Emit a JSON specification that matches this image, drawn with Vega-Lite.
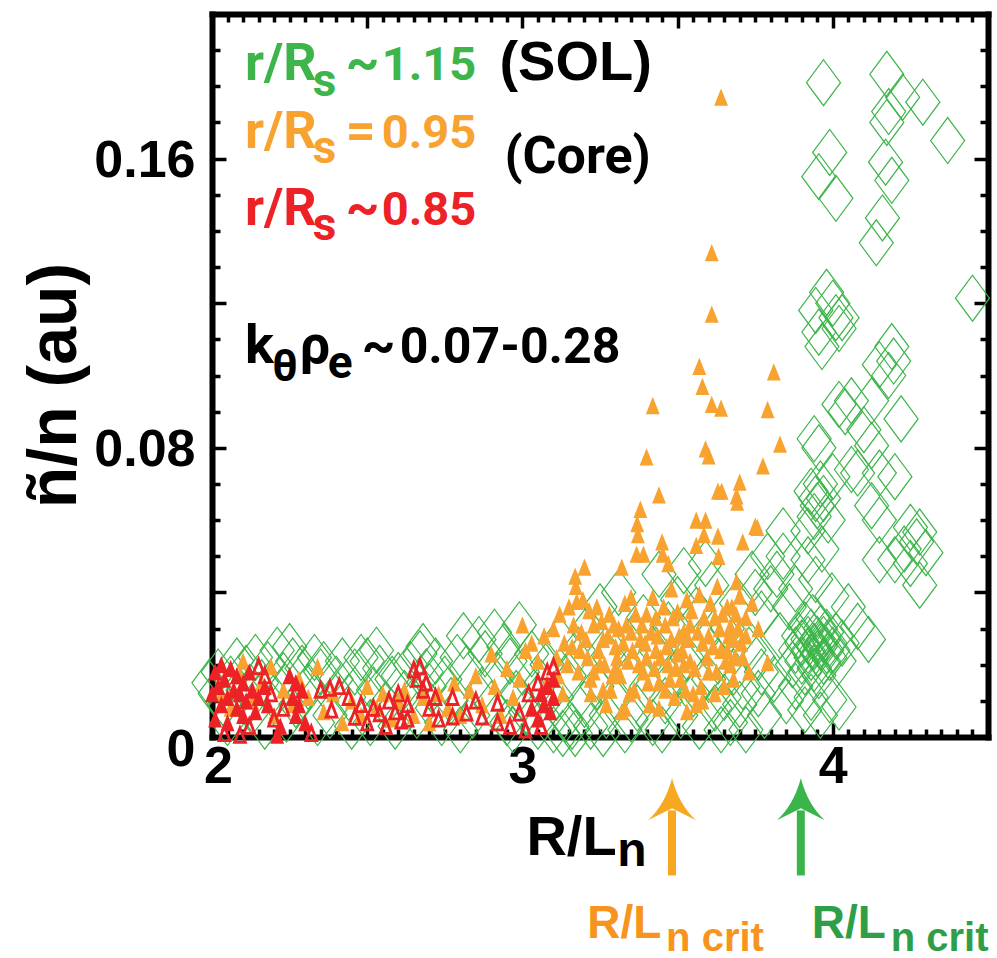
{
  "$schema": "https://vega.github.io/schema/vega-lite/v6.json",
  "width": 776,
  "height": 723,
  "autosize": {"type": "none"},
  "padding": {"left": 212, "top": 14, "right": 9, "bottom": 221},
  "background": "white",
  "config": {
    "view": {"stroke": null},
    "axis": {
      "grid": false, "domainColor": "black", "domainWidth": 6, "domainCap": "square",
      "tickColor": "black", "tickWidth": 3.5,
      "labelFont": "Liberation Sans", "labelFontWeight": "bold", "labelFontSize": 52, "labelColor": "black",
      "titleFont": "Liberation Sans", "titleFontWeight": "bold", "titleColor": "black",
      "labelOverlap": false, "labelBound": false, "labelFlush": false
    }
  },
  "datasets": {
    "sol": [
      {"x":1.99,"y":0.015},{"x":2.01,"y":0.012},{"x":2.02,"y":0.018},{"x":2.04,"y":0.009},{"x":2.06,"y":0.016},{"x":2.08,"y":0.021},{"x":2.1,"y":0.013},{"x":2.11,"y":0.019},{"x":2.13,"y":0.007},{"x":2.14,"y":0.022},{"x":2.16,"y":0.015},{"x":2.18,"y":0.02},{"x":2.2,"y":0.011},{"x":2.21,"y":0.024},{"x":2.23,"y":0.017},{"x":2.25,"y":0.025},{"x":2.26,"y":0.021},{"x":2.27,"y":0.009},{"x":2.29,"y":0.019},{"x":2.05,"y":0.004},{"x":2.17,"y":0.003},{"x":2.24,"y":0.005},
      {"x":2.31,"y":0.014},{"x":2.33,"y":0.022},{"x":2.35,"y":0.018},{"x":2.36,"y":0.02},{"x":2.38,"y":0.006},{"x":2.4,"y":0.016},{"x":2.42,"y":0.021},{"x":2.44,"y":0.011},{"x":2.46,"y":0.018},{"x":2.48,"y":0.022},{"x":2.5,"y":0.021},{"x":2.51,"y":0.004},{"x":2.52,"y":0.013},{"x":2.54,"y":0.019},{"x":2.56,"y":0.009},{"x":2.58,"y":0.016},{"x":2.6,"y":0.017},{"x":2.59,"y":0.003},{"x":2.34,"y":0.004},{"x":2.45,"y":0.003},{"x":2.53,"y":0.024},
      {"x":2.62,"y":0.012},{"x":2.64,"y":0.02},{"x":2.66,"y":0.006},{"x":2.68,"y":0.025},{"x":2.69,"y":0.018},{"x":2.7,"y":0.014},{"x":2.72,"y":0.021},{"x":2.74,"y":0.004},{"x":2.75,"y":0.016},{"x":2.77,"y":0.01},{"x":2.79,"y":0.022},{"x":2.81,"y":0.028},{"x":2.82,"y":0.019},{"x":2.84,"y":0.006},{"x":2.86,"y":0.027},{"x":2.87,"y":0.013},{"x":2.88,"y":0.023},{"x":2.9,"y":0.009},{"x":2.67,"y":0.023},{"x":2.8,"y":0.002},{"x":2.71,"y":0.008},
      {"x":2.91,"y":0.029},{"x":2.92,"y":0.017},{"x":2.94,"y":0.025},{"x":2.95,"y":0.004},{"x":2.96,"y":0.021},{"x":2.98,"y":0.012},{"x":2.99,"y":0.031},{"x":3.0,"y":0.018},{"x":3.01,"y":0.007},{"x":3.03,"y":0.023},{"x":3.05,"y":0.003},{"x":3.06,"y":0.015},{"x":3.08,"y":0.02},{"x":3.1,"y":0.002},{"x":3.11,"y":0.011},{"x":3.12,"y":0.027},{"x":3.14,"y":0.005},{"x":3.15,"y":0.017},{"x":3.17,"y":0.001},{"x":3.18,"y":0.024},{"x":3.2,"y":0.009},{"x":2.97,"y":0.002},{"x":3.13,"y":0.001},{"x":3.16,"y":0.003},
      {"x":3.21,"y":0.03},{"x":3.22,"y":0.003},{"x":3.24,"y":0.014},{"x":3.25,"y":0.036},{"x":3.27,"y":0.006},{"x":3.28,"y":0.022},{"x":3.3,"y":0.011},{"x":3.31,"y":0.04},{"x":3.33,"y":0.002},{"x":3.34,"y":0.018},{"x":3.36,"y":0.028},{"x":3.37,"y":0.008},{"x":3.39,"y":0.033},{"x":3.4,"y":0.014},{"x":3.42,"y":0.004},{"x":3.43,"y":0.024},{"x":3.44,"y":0.045},{"x":3.46,"y":0.01},{"x":3.47,"y":0.031},{"x":3.49,"y":0.017},{"x":3.5,"y":0.038},{"x":3.26,"y":0.001},{"x":3.35,"y":0.005},{"x":3.45,"y":0.002},
      {"x":3.51,"y":0.006},{"x":3.52,"y":0.046},{"x":3.53,"y":0.022},{"x":3.55,"y":0.012},{"x":3.56,"y":0.035},{"x":3.57,"y":0.003},{"x":3.58,"y":0.027},{"x":3.6,"y":0.016},{"x":3.61,"y":0.042},{"x":3.62,"y":0.008},{"x":3.63,"y":0.021},{"x":3.65,"y":0.011},{"x":3.66,"y":0.03},{"x":3.67,"y":0.004},{"x":3.68,"y":0.018},{"x":3.7,"y":0.009},{"x":3.71,"y":0.014},{"x":3.72,"y":0.002},{"x":3.73,"y":0.024},{"x":3.74,"y":0.045},{"x":3.75,"y":0.04},{"x":3.76,"y":0.012},{"x":3.77,"y":0.034},{"x":3.78,"y":0.006},{"x":3.79,"y":0.05},{"x":3.59,"y":0.048},{"x":3.64,"y":0.002},{"x":3.69,"y":0.037},{"x":3.76,"y":0.022},{"x":3.8,"y":0.041},{"x":3.82,"y":0.045},{"x":3.84,"y":0.05},{"x":3.84,"y":0.057},{"x":3.77,"y":0.018},
      {"x":3.86,"y":0.036},{"x":3.88,"y":0.041},{"x":3.92,"y":0.049},{"x":3.965,"y":0.052},{"x":3.945,"y":0.0436},{"x":3.997,"y":0.039},{"x":4.05,"y":0.036},{"x":4.08,"y":0.0306},{"x":4.115,"y":0.027},{"x":3.88,"y":0.014},{"x":3.93,"y":0.011},{"x":3.99,"y":0.0103},{"x":4.02,"y":0.0083},{"x":3.91,"y":0.0075},{"x":3.96,"y":0.006},{"x":3.85,"y":0.01},{"x":3.87,"y":0.02},{"x":3.83,"y":0.028},{"x":3.81,"y":0.016},
      {"x":3.88,"y":0.024},{"x":3.89,"y":0.028},{"x":3.9,"y":0.021},{"x":3.9,"y":0.026},{"x":3.91,"y":0.031},{"x":3.91,"y":0.018},{"x":3.92,"y":0.024},{"x":3.92,"y":0.027},{"x":3.93,"y":0.022},{"x":3.93,"y":0.029},{"x":3.94,"y":0.025},{"x":3.94,"y":0.019},{"x":3.95,"y":0.027},{"x":3.95,"y":0.023},{"x":3.96,"y":0.03},{"x":3.96,"y":0.025},{"x":3.97,"y":0.021},{"x":3.97,"y":0.027},{"x":3.98,"y":0.024},{"x":3.98,"y":0.029},{"x":3.99,"y":0.022},{"x":3.99,"y":0.026},{"x":4.0,"y":0.024},{"x":4.01,"y":0.028},{"x":4.02,"y":0.021},{"x":3.935,"y":0.033},{"x":3.955,"y":0.017},{"x":4.03,"y":0.026},
      {"x":3.92,"y":0.057},{"x":3.93,"y":0.068},{"x":3.94,"y":0.061},{"x":3.945,"y":0.066},{"x":3.95,"y":0.064},{"x":3.96,"y":0.07},{"x":3.97,"y":0.066},{"x":3.985,"y":0.06},{"x":4.0,"y":0.072},{"x":3.94,"y":0.0825},{"x":3.955,"y":0.08},{"x":4.02,"y":0.092},{"x":4.04,"y":0.09},{"x":4.06,"y":0.093},{"x":4.125,"y":0.093},{"x":4.15,"y":0.103},{"x":4.18,"y":0.1},{"x":4.196,"y":0.104},{"x":4.125,"y":0.0806},{"x":4.08,"y":0.073},{"x":4.15,"y":0.073},{"x":4.2,"y":0.072},{"x":4.06,"y":0.074},{"x":4.125,"y":0.064},{"x":4.15,"y":0.06},{"x":4.25,"y":0.058},{"x":4.28,"y":0.0567},{"x":4.27,"y":0.054},{"x":4.15,"y":0.049},{"x":4.2,"y":0.049},{"x":4.23,"y":0.052},{"x":4.28,"y":0.042},{"x":4.25,"y":0.048},{"x":4.3,"y":0.051},{"x":4.1,"y":0.085},{"x":4.22,"y":0.088},
      {"x":3.955,"y":0.112},{"x":4.01,"y":0.116},{"x":4.03,"y":0.116},{"x":3.965,"y":0.108},{"x":3.945,"y":0.118},{"x":3.98,"y":0.123},{"x":4.02,"y":0.113},{"x":4.0,"y":0.12},
      {"x":3.97,"y":0.181},{"x":4.174,"y":0.1833},{"x":4.225,"y":0.177},{"x":4.29,"y":0.1756},{"x":4.18,"y":0.173},{"x":4.174,"y":0.17},{"x":4.37,"y":0.165},{"x":3.99,"y":0.1617},{"x":3.955,"y":0.155},{"x":4.01,"y":0.149},{"x":4.17,"y":0.159},{"x":4.19,"y":0.154},{"x":4.16,"y":0.1436},{"x":4.14,"y":0.1367},{"x":4.45,"y":0.1214},{"x":4.19,"y":0.108}
    ],
    "core": [
      {"x":2.03,"y":0.012},{"x":2.06,"y":0.008},{"x":2.09,"y":0.017},{"x":2.1,"y":0.021},{"x":2.13,"y":0.01},{"x":2.16,"y":0.015},{"x":2.19,"y":0.0195},{"x":2.2,"y":0.006},{"x":2.23,"y":0.013},{"x":2.26,"y":0.009},{"x":2.28,"y":0.016},{"x":2.31,"y":0.011},{"x":2.34,"y":0.0195},{"x":2.36,"y":0.007},{"x":2.39,"y":0.012},{"x":2.42,"y":0.004},{"x":2.45,"y":0.01},{"x":2.48,"y":0.006},{"x":2.5,"y":0.014},{"x":2.53,"y":0.008},{"x":2.55,"y":0.012},{"x":2.58,"y":0.005},{"x":2.6,"y":0.01},{"x":2.62,"y":0.013},{"x":2.65,"y":0.006},{"x":2.68,"y":0.011},{"x":2.7,"y":0.004},{"x":2.73,"y":0.012},{"x":2.76,"y":0.008},{"x":2.78,"y":0.015},{"x":2.8,"y":0.006},{"x":2.83,"y":0.013},{"x":2.85,"y":0.017},{"x":2.87,"y":0.009},{"x":2.9,"y":0.023},{"x":2.91,"y":0.014},{"x":2.93,"y":0.006},{"x":2.95,"y":0.019},{"x":2.97,"y":0.011},{"x":2.99,"y":0.016},{"x":3.0,"y":0.031},{"x":3.01,"y":0.024},
      {"x":3.03,"y":0.026},{"x":3.05,"y":0.021},{"x":3.07,"y":0.028},{"x":3.08,"y":0.015},{"x":3.1,"y":0.03},{"x":3.11,"y":0.022},{"x":3.12,"y":0.034},{"x":3.13,"y":0.012},{"x":3.15,"y":0.036},{"x":3.16,"y":0.025},{"x":3.17,"y":0.0445},{"x":3.172,"y":0.0417},{"x":3.175,"y":0.0375},{"x":3.18,"y":0.018},{"x":3.19,"y":0.029},{"x":3.2,"y":0.047},{"x":3.21,"y":0.022},{"x":3.22,"y":0.012},{"x":3.23,"y":0.031},{"x":3.24,"y":0.036},{"x":3.25,"y":0.02},{"x":3.26,"y":0.027},{"x":3.27,"y":0.009},{"x":3.28,"y":0.034},{"x":3.29,"y":0.017},{"x":3.3,"y":0.025},
      {"x":3.31,"y":0.03},{"x":3.32,"y":0.047},{"x":3.33,"y":0.037},{"x":3.34,"y":0.021},{"x":3.35,"y":0.0386},{"x":3.36,"y":0.013},{"x":3.37,"y":0.059},{"x":3.372,"y":0.056},{"x":3.368,"y":0.0506},{"x":3.38,"y":0.063},{"x":3.38,"y":0.027},{"x":3.39,"y":0.0506},{"x":3.39,"y":0.018},{"x":3.4,"y":0.0775},{"x":3.4,"y":0.034},{"x":3.41,"y":0.009},{"x":3.42,"y":0.0917},{"x":3.42,"y":0.0386},{"x":3.43,"y":0.024},{"x":3.44,"y":0.067},{"x":3.44,"y":0.015},{"x":3.45,"y":0.054},{"x":3.452,"y":0.0506},{"x":3.46,"y":0.031},{"x":3.47,"y":0.048},{"x":3.47,"y":0.02},{"x":3.48,"y":0.027},{"x":3.49,"y":0.011},{"x":3.5,"y":0.0347},{"x":3.5,"y":0.023},
      {"x":3.51,"y":0.016},{"x":3.52,"y":0.029},{"x":3.53,"y":0.038},{"x":3.54,"y":0.021},{"x":3.55,"y":0.012},{"x":3.56,"y":0.06},{"x":3.56,"y":0.053},{"x":3.57,"y":0.0394},{"x":3.57,"y":0.1025},{"x":3.58,"y":0.097},{"x":3.58,"y":0.026},{"x":3.59,"y":0.06},{"x":3.585,"y":0.056},{"x":3.59,"y":0.0797},{"x":3.6,"y":0.0778},{"x":3.6,"y":0.018},{"x":3.61,"y":0.134},{"x":3.61,"y":0.117},{"x":3.61,"y":0.092},{"x":3.62,"y":0.033},{"x":3.63,"y":0.068},{"x":3.63,"y":0.0556},{"x":3.632,"y":0.05},{"x":3.628,"y":0.0417},{"x":3.64,"y":0.177},{"x":3.64,"y":0.091},{"x":3.642,"y":0.068},{"x":3.64,"y":0.024},{"x":3.65,"y":0.014},{"x":3.66,"y":0.036},{"x":3.67,"y":0.0306},{"x":3.67,"y":0.02},{"x":3.68,"y":0.027},{"x":3.69,"y":0.0667},{"x":3.692,"y":0.065},{"x":3.69,"y":0.043},{"x":3.688,"y":0.034},{"x":3.7,"y":0.0705},{"x":3.7,"y":0.039},{"x":3.71,"y":0.054},{"x":3.71,"y":0.022},{"x":3.72,"y":0.033},{"x":3.72,"y":0.028},{"x":3.73,"y":0.018},{"x":3.74,"y":0.037},
      {"x":3.75,"y":0.0583},{"x":3.757,"y":0.058},{"x":3.76,"y":0.03},{"x":3.775,"y":0.075},{"x":3.79,"y":0.0906},{"x":3.79,"y":0.0206},{"x":3.81,"y":0.101},{"x":3.83,"y":0.081},
      {"x":3.22,"y":0.016},{"x":3.26,"y":0.013},{"x":3.3,"y":0.019},{"x":3.33,"y":0.008},{"x":3.35,"y":0.029},{"x":3.4,"y":0.022},{"x":3.43,"y":0.033},{"x":3.46,"y":0.013},{"x":3.48,"y":0.041},{"x":3.52,"y":0.02},{"x":3.54,"y":0.031},{"x":3.56,"y":0.009},{"x":3.6,"y":0.028},{"x":3.62,"y":0.012},{"x":3.66,"y":0.024},{"x":3.68,"y":0.016},
      {"x":3.205,"y":0.027},{"x":3.215,"y":0.035},{"x":3.23,"y":0.018},{"x":3.245,"y":0.024},{"x":3.255,"y":0.032},{"x":3.265,"y":0.02},{"x":3.275,"y":0.028},{"x":3.285,"y":0.013},{"x":3.295,"y":0.031},{"x":3.305,"y":0.022},
      {"x":3.315,"y":0.017},{"x":3.325,"y":0.026},{"x":3.335,"y":0.031},{"x":3.345,"y":0.012},{"x":3.355,"y":0.024},{"x":3.365,"y":0.034},{"x":3.375,"y":0.02},{"x":3.385,"y":0.031},{"x":3.395,"y":0.026},{"x":3.405,"y":0.015},
      {"x":3.415,"y":0.029},{"x":3.425,"y":0.019},{"x":3.435,"y":0.028},{"x":3.445,"y":0.022},{"x":3.455,"y":0.036},{"x":3.465,"y":0.025},{"x":3.475,"y":0.016},{"x":3.485,"y":0.033},{"x":3.495,"y":0.019},{"x":3.505,"y":0.028},
      {"x":3.515,"y":0.024},{"x":3.525,"y":0.013},{"x":3.535,"y":0.027},{"x":3.545,"y":0.035},{"x":3.555,"y":0.019},{"x":3.565,"y":0.029},{"x":3.575,"y":0.014},{"x":3.585,"y":0.033},{"x":3.595,"y":0.022},{"x":3.605,"y":0.037},
      {"x":3.615,"y":0.025},{"x":3.625,"y":0.018},{"x":3.635,"y":0.03},{"x":3.645,"y":0.034},{"x":3.655,"y":0.021},{"x":3.665,"y":0.028},{"x":3.675,"y":0.036},{"x":3.685,"y":0.022},{"x":3.695,"y":0.03},{"x":3.705,"y":0.026},
      {"x":3.115,"y":0.017},{"x":3.135,"y":0.026},{"x":3.145,"y":0.02},{"x":3.165,"y":0.031},{"x":3.185,"y":0.024},{"x":3.195,"y":0.038},
      {"x":3.32,"y":0.007},{"x":3.44,"y":0.008},{"x":3.53,"y":0.007},{"x":3.58,"y":0.01}
    ],
    "innerFilled": [
      {"x":2.0,"y":0.012},{"x":2.01,"y":0.018},{"x":2.01,"y":0.005},{"x":2.02,"y":0.014},{"x":2.03,"y":0.009},{"x":2.03,"y":0.02},{"x":2.04,"y":0.016},{"x":2.05,"y":0.011},{"x":2.05,"y":0.004},{"x":2.06,"y":0.019},{"x":2.07,"y":0.013},{"x":2.08,"y":0.008},{"x":2.08,"y":0.017},{"x":2.09,"y":0.012},{"x":2.1,"y":0.006},{"x":2.1,"y":0.015},{"x":2.11,"y":0.01},{"x":2.12,"y":0.018},{"x":2.13,"y":0.013},{"x":2.14,"y":0.007},{"x":2.15,"y":0.011},{"x":2.17,"y":0.014},{"x":2.18,"y":0.009},{"x":2.25,"y":0.017},{"x":2.26,"y":0.011},{"x":2.27,"y":0.006},{"x":2.27,"y":0.015},{"x":2.28,"y":0.009},{"x":2.29,"y":0.013},{"x":2.3,"y":0.004},{"x":2.22,"y":0.003},{"x":2.21,"y":0.0005},
      {"x":3.03,"y":0.008},{"x":3.05,"y":0.005},{"x":3.06,"y":0.012},{"x":3.07,"y":0.009},{"x":3.08,"y":0.014},{"x":3.09,"y":0.007},{"x":3.1,"y":0.011},{"x":3.1,"y":0.016}
    ],
    "innerOpen": [
      {"x":2.15,"y":0.0195},{"x":2.17,"y":0.017},{"x":2.19,"y":0.012},{"x":2.2,"y":0.005},{"x":2.23,"y":0.008},{"x":2.35,"y":0.013},{"x":2.38,"y":0.0135},{"x":2.41,"y":0.014},{"x":2.385,"y":0.0075},{"x":2.44,"y":0.011},{"x":2.46,"y":0.0055},{"x":2.48,"y":0.009},{"x":2.5,"y":0.004},{"x":2.52,"y":0.008},{"x":2.54,"y":0.0065},{"x":2.56,"y":0.003},{"x":2.57,"y":0.01},{"x":2.59,"y":0.007},{"x":2.61,"y":0.0045},{"x":2.63,"y":0.009},{"x":2.65,"y":0.0186},{"x":2.66,"y":0.016},{"x":2.67,"y":0.0195},{"x":2.68,"y":0.013},{"x":2.69,"y":0.015},{"x":2.7,"y":0.008},{"x":2.72,"y":0.011},{"x":2.73,"y":0.005},{"x":2.775,"y":0.011},{"x":2.775,"y":0.0056},{"x":2.82,"y":0.0067},{"x":2.85,"y":0.01},{"x":2.87,"y":0.0056},{"x":2.92,"y":0.0094},{"x":2.92,"y":0.004},{"x":2.96,"y":0.003},{"x":2.99,"y":0.0067},{"x":3.02,"y":0.012},{"x":3.01,"y":0.002},{"x":3.06,"y":0.003},{"x":3.08,"y":0.018},{"x":3.1,"y":0.0195},{"x":3.05,"y":0.015},{"x":2.6,"y":0.012},{"x":2.63,"y":0.005},{"x":2.09,"y":0.0005},{"x":2.04,"y":0.001},{"x":2.32,"y":0.001},{"x":2.12,"y":0.003}
    ],
    "one": [{}]
  },
  "resolve": {"axis": {"x": "independent", "y": "independent"}},
  "layer": [
    {
      "data": {"name": "sol"},
      "mark": {"type": "point", "shape": "M-0.74,0L0,-1L0.74,0L0,1Z", "size": 2116, "filled": false, "color": "#3db54a", "strokeWidth": 1.2, "opacity": 1},
      "encoding": {
        "x": {"field": "x", "type": "quantitative",
          "scale": {"domain": [2, 4.5], "nice": false, "zero": false},
          "axis": {"orient": "bottom", "title": null,
            "values": [2,2.05,2.1,2.15,2.2,2.25,2.3,2.35,2.4,2.45,2.5,2.55,2.6,2.65,2.7,2.75,2.8,2.85,2.9,2.95,3,3.05,3.1,3.15,3.2,3.25,3.3,3.35,3.4,3.45,3.5,3.55,3.6,3.65,3.7,3.75,3.8,3.85,3.9,3.95,4,4.05,4.1,4.15,4.2,4.25,4.3,4.35,4.4,4.45,4.5],
            "labelExpr": "datum.value == 2 ? '2' : datum.value == 3 ? '3' : datum.value == 4 ? '4' : ''",
            "tickSize": {"condition": {"test": "abs(datum.value*2 - round(datum.value*2)) < 0.001", "value": -14}, "value": -8},
            "labelPadding": 18,
            "labelOffset": {"condition": {"test": "datum.value == 2", "value": 6}, "value": 0}}},
        "y": {"field": "y", "type": "quantitative",
          "scale": {"domain": [0, 0.2], "nice": false, "zero": false},
          "axis": {"orient": "left", "title": "ñ/n (au)", "titleFontSize": 68, "titleAngle": 270, "titleAlign": "center", "titleBaseline": "alphabetic", "titleX": -137, "titleY": 371,
            "values": [0,0.01,0.02,0.03,0.04,0.05,0.06,0.07,0.08,0.09,0.1,0.11,0.12,0.13,0.14,0.15,0.16,0.17,0.18,0.19,0.2],
            "labelExpr": "datum.value == 0 ? '0' : datum.value == 0.08 ? '0.08' : datum.value == 0.16 ? '0.16' : ''",
            "tickSize": {"condition": {"test": "abs(datum.value*25 - round(datum.value*25)) < 0.001", "value": -14}, "value": -8},
            "labelPadding": 31,
            "labelOffset": {"condition": {"test": "datum.value == 0", "value": 12}, "value": 2}}}
      }
    },
    {
      "data": {"name": "core"},
      "mark": {"type": "point", "shape": "M0,-1L0.8,1L-0.8,1Z", "size": 300, "filled": true, "color": "#f8a230", "opacity": 1, "strokeWidth": 0},
      "encoding": {
        "x": {"field": "x", "type": "quantitative", "scale": {"domain": [2, 4.5], "nice": false, "zero": false},
          "axis": {"orient": "top", "title": null, "labels": false,
            "values": [2,2.05,2.1,2.15,2.2,2.25,2.3,2.35,2.4,2.45,2.5,2.55,2.6,2.65,2.7,2.75,2.8,2.85,2.9,2.95,3,3.05,3.1,3.15,3.2,3.25,3.3,3.35,3.4,3.45,3.5,3.55,3.6,3.65,3.7,3.75,3.8,3.85,3.9,3.95,4,4.05,4.1,4.15,4.2,4.25,4.3,4.35,4.4,4.45,4.5],
            "tickSize": {"condition": {"test": "abs(datum.value*2 - round(datum.value*2)) < 0.001", "value": -14}, "value": -8}}},
        "y": {"field": "y", "type": "quantitative", "scale": {"domain": [0, 0.2], "nice": false, "zero": false},
          "axis": {"orient": "right", "title": null, "labels": false,
            "values": [0,0.01,0.02,0.03,0.04,0.05,0.06,0.07,0.08,0.09,0.1,0.11,0.12,0.13,0.14,0.15,0.16,0.17,0.18,0.19,0.2],
            "tickSize": {"condition": {"test": "abs(datum.value*25 - round(datum.value*25)) < 0.001", "value": -14}, "value": -8}}}
      }
    },
    {
      "data": {"name": "innerFilled"},
      "mark": {"type": "point", "shape": "M0,-1L0.8,1L-0.8,1Z", "size": 300, "filled": true, "color": "#ec2227", "opacity": 1, "strokeWidth": 0},
      "encoding": {
        "x": {"field": "x", "type": "quantitative", "axis": null},
        "y": {"field": "y", "type": "quantitative", "axis": null}
      }
    },
    {
      "data": {"name": "innerOpen"},
      "mark": {"type": "point", "shape": "M0,-1L0.75,1L-0.75,1Z", "size": 210, "filled": false, "color": "#ec2227", "opacity": 1, "strokeWidth": 2.8},
      "encoding": {
        "x": {"field": "x", "type": "quantitative", "axis": null},
        "y": {"field": "y", "type": "quantitative", "axis": null}
      }
    },
    {"data": {"name": "one"}, "mark": {"type": "text", "align": "left", "baseline": "alphabetic", "font": "Roboto", "fontWeight": "bold", "fontSize": 52, "color": "#3db54a"},
     "encoding": {"x": {"datum": 2.1061, "type": "quantitative", "axis": null}, "y": {"datum": 0.18167, "type": "quantitative", "axis": null}, "text": {"value": "r/R"}}},
    {"data": {"name": "one"}, "mark": {"type": "text", "align": "left", "baseline": "alphabetic", "font": "Roboto", "fontWeight": "bold", "fontSize": 46, "color": "#3db54a"},
     "encoding": {"x": {"datum": 2.3248, "type": "quantitative", "axis": null}, "y": {"datum": 0.1772, "type": "quantitative", "axis": null}, "text": {"value": "s"}}},
    {"data": {"name": "one"}, "mark": {"type": "text", "align": "left", "baseline": "alphabetic", "font": "Roboto", "fontWeight": "bold", "fontSize": 52, "color": "#3db54a"},
     "encoding": {"x": {"datum": 2.4309, "type": "quantitative", "axis": null}, "y": {"datum": 0.18167, "type": "quantitative", "axis": null}, "text": {"value": "~"}}},
    {"data": {"name": "one"}, "mark": {"type": "text", "align": "left", "baseline": "alphabetic", "font": "Roboto", "fontWeight": "bold", "fontSize": 47, "color": "#3db54a"},
     "encoding": {"x": {"datum": 2.5466, "type": "quantitative", "axis": null}, "y": {"datum": 0.18167, "type": "quantitative", "axis": null}, "text": {"value": "1.15"}}},
    {"data": {"name": "one"}, "mark": {"type": "text", "align": "left", "baseline": "alphabetic", "font": "Roboto", "fontWeight": "bold", "fontSize": 52, "color": "#f8a230"},
     "encoding": {"x": {"datum": 2.1061, "type": "quantitative", "axis": null}, "y": {"datum": 0.16306, "type": "quantitative", "axis": null}, "text": {"value": "r/R"}}},
    {"data": {"name": "one"}, "mark": {"type": "text", "align": "left", "baseline": "alphabetic", "font": "Roboto", "fontWeight": "bold", "fontSize": 46, "color": "#f8a230"},
     "encoding": {"x": {"datum": 2.3248, "type": "quantitative", "axis": null}, "y": {"datum": 0.15889, "type": "quantitative", "axis": null}, "text": {"value": "s"}}},
    {"data": {"name": "one"}, "mark": {"type": "text", "align": "left", "baseline": "alphabetic", "font": "Roboto", "fontWeight": "bold", "fontSize": 52, "color": "#f8a230"},
     "encoding": {"x": {"datum": 2.4309, "type": "quantitative", "axis": null}, "y": {"datum": 0.16306, "type": "quantitative", "axis": null}, "text": {"value": "="}}},
    {"data": {"name": "one"}, "mark": {"type": "text", "align": "left", "baseline": "alphabetic", "font": "Roboto", "fontWeight": "bold", "fontSize": 47, "color": "#f8a230"},
     "encoding": {"x": {"datum": 2.5466, "type": "quantitative", "axis": null}, "y": {"datum": 0.16306, "type": "quantitative", "axis": null}, "text": {"value": "0.95"}}},
    {"data": {"name": "one"}, "mark": {"type": "text", "align": "left", "baseline": "alphabetic", "font": "Roboto", "fontWeight": "bold", "fontSize": 52, "color": "#ec2227"},
     "encoding": {"x": {"datum": 2.1061, "type": "quantitative", "axis": null}, "y": {"datum": 0.14167, "type": "quantitative", "axis": null}, "text": {"value": "r/R"}}},
    {"data": {"name": "one"}, "mark": {"type": "text", "align": "left", "baseline": "alphabetic", "font": "Roboto", "fontWeight": "bold", "fontSize": 46, "color": "#ec2227"},
     "encoding": {"x": {"datum": 2.3248, "type": "quantitative", "axis": null}, "y": {"datum": 0.1375, "type": "quantitative", "axis": null}, "text": {"value": "s"}}},
    {"data": {"name": "one"}, "mark": {"type": "text", "align": "left", "baseline": "alphabetic", "font": "Roboto", "fontWeight": "bold", "fontSize": 52, "color": "#ec2227"},
     "encoding": {"x": {"datum": 2.4309, "type": "quantitative", "axis": null}, "y": {"datum": 0.14167, "type": "quantitative", "axis": null}, "text": {"value": "~"}}},
    {"data": {"name": "one"}, "mark": {"type": "text", "align": "left", "baseline": "alphabetic", "font": "Roboto", "fontWeight": "bold", "fontSize": 47, "color": "#ec2227"},
     "encoding": {"x": {"datum": 2.5466, "type": "quantitative", "axis": null}, "y": {"datum": 0.14167, "type": "quantitative", "axis": null}, "text": {"value": "0.85"}}},
    {"data": {"name": "one"}, "mark": {"type": "text", "align": "left", "baseline": "alphabetic", "font": "Liberation Sans", "fontWeight": "bold", "fontSize": 56, "color": "black"},
     "encoding": {"x": {"datum": 2.926, "type": "quantitative", "axis": null}, "y": {"datum": 0.18167, "type": "quantitative", "axis": null}, "text": {"value": "(SOL)"}}},
    {"data": {"name": "one"}, "mark": {"type": "text", "align": "left", "baseline": "alphabetic", "font": "Roboto", "fontWeight": "bold", "fontSize": 52, "color": "black"},
     "encoding": {"x": {"datum": 2.942, "type": "quantitative", "axis": null}, "y": {"datum": 0.15611, "type": "quantitative", "axis": null}, "text": {"value": "(Core)"}}},
    {"data": {"name": "one"}, "mark": {"type": "text", "align": "left", "baseline": "alphabetic", "font": "Roboto", "fontWeight": "bold", "fontSize": 54, "color": "black"},
     "encoding": {"x": {"datum": 2.1061, "type": "quantitative", "axis": null}, "y": {"datum": 0.10333, "type": "quantitative", "axis": null}, "text": {"value": "k"}}},
    {"data": {"name": "one"}, "mark": {"type": "text", "align": "left", "baseline": "alphabetic", "font": "Roboto", "fontWeight": "bold", "fontSize": 44, "color": "black"},
     "encoding": {"x": {"datum": 2.1929, "type": "quantitative", "axis": null}, "y": {"datum": 0.0986, "type": "quantitative", "axis": null}, "text": {"value": "θ"}}},
    {"data": {"name": "one"}, "mark": {"type": "text", "align": "left", "baseline": "alphabetic", "font": "Roboto", "fontWeight": "bold", "fontSize": 54, "color": "black"},
     "encoding": {"x": {"datum": 2.283, "type": "quantitative", "axis": null}, "y": {"datum": 0.10333, "type": "quantitative", "axis": null}, "text": {"value": "ρ"}}},
    {"data": {"name": "one"}, "mark": {"type": "text", "align": "left", "baseline": "alphabetic", "font": "Roboto", "fontWeight": "bold", "fontSize": 46, "color": "black"},
     "encoding": {"x": {"datum": 2.373, "type": "quantitative", "axis": null}, "y": {"datum": 0.0992, "type": "quantitative", "axis": null}, "text": {"value": "e"}}},
    {"data": {"name": "one"}, "mark": {"type": "text", "align": "left", "baseline": "alphabetic", "font": "Roboto", "fontWeight": "bold", "fontSize": 52, "color": "black"},
     "encoding": {"x": {"datum": 2.4823, "type": "quantitative", "axis": null}, "y": {"datum": 0.10333, "type": "quantitative", "axis": null}, "text": {"value": "~"}}},
    {"data": {"name": "one"}, "mark": {"type": "text", "align": "left", "baseline": "alphabetic", "font": "Roboto", "fontWeight": "bold", "fontSize": 50, "color": "black"},
     "encoding": {"x": {"datum": 2.6045, "type": "quantitative", "axis": null}, "y": {"datum": 0.10333, "type": "quantitative", "axis": null}, "text": {"value": "0.07-0.28"}}},
    {"data": {"name": "one"}, "mark": {"type": "text", "align": "left", "baseline": "alphabetic", "font": "Liberation Sans", "fontWeight": "bold", "fontSize": 56, "color": "black"},
     "encoding": {"x": {"datum": 3.0129, "type": "quantitative", "axis": null}, "y": {"datum": -0.03278, "type": "quantitative", "axis": null}, "text": {"value": "R/L"}}},
    {"data": {"name": "one"}, "mark": {"type": "text", "align": "left", "baseline": "alphabetic", "font": "Liberation Sans", "fontWeight": "bold", "fontSize": 48, "color": "black"},
     "encoding": {"x": {"datum": 3.3055, "type": "quantitative", "axis": null}, "y": {"datum": -0.03556, "type": "quantitative", "axis": null}, "text": {"value": "n"}}},
    {"data": {"name": "one"}, "mark": {"type": "rule", "color": "#f6a821", "strokeWidth": 8},
     "encoding": {"x": {"datum": 3.482, "type": "quantitative", "axis": null}, "y": {"datum": -0.0383, "type": "quantitative", "axis": null}, "y2": {"datum": -0.0203}}},
    {"data": {"name": "one"}, "mark": {"type": "point", "shape": "M0,-0.92Q0.3,0.2 1,0.83L0,0.33L-1,0.83Q-0.3,0.2 0,-0.92Z", "size": 2304, "filled": true, "color": "#f6a821", "opacity": 1, "strokeWidth": 0},
     "encoding": {"x": {"datum": 3.482, "type": "quantitative", "axis": null}, "y": {"datum": -0.0175, "type": "quantitative", "axis": null}}},
    {"data": {"name": "one"}, "mark": {"type": "rule", "color": "#39b54a", "strokeWidth": 8},
     "encoding": {"x": {"datum": 3.897, "type": "quantitative", "axis": null}, "y": {"datum": -0.0383, "type": "quantitative", "axis": null}, "y2": {"datum": -0.0203}}},
    {"data": {"name": "one"}, "mark": {"type": "point", "shape": "M0,-0.92Q0.3,0.2 1,0.83L0,0.33L-1,0.83Q-0.3,0.2 0,-0.92Z", "size": 2304, "filled": true, "color": "#39b54a", "opacity": 1, "strokeWidth": 0},
     "encoding": {"x": {"datum": 3.897, "type": "quantitative", "axis": null}, "y": {"datum": -0.0175, "type": "quantitative", "axis": null}}},
    {"data": {"name": "one"}, "mark": {"type": "text", "align": "left", "baseline": "alphabetic", "font": "Liberation Sans", "fontWeight": "bold", "fontSize": 46, "color": "#f7941d"},
     "encoding": {"x": {"datum": 3.209, "type": "quantitative", "axis": null}, "y": {"datum": -0.05556, "type": "quantitative", "axis": null}, "text": {"value": "R/L"}}},
    {"data": {"name": "one"}, "mark": {"type": "text", "align": "left", "baseline": "alphabetic", "font": "Liberation Sans", "fontWeight": "bold", "fontSize": 40, "color": "#f7941d"},
     "encoding": {"x": {"datum": 3.463, "type": "quantitative", "axis": null}, "y": {"datum": -0.0592, "type": "quantitative", "axis": null}, "text": {"value": "n crit"}}},
    {"data": {"name": "one"}, "mark": {"type": "text", "align": "left", "baseline": "alphabetic", "font": "Liberation Sans", "fontWeight": "bold", "fontSize": 46, "color": "#2e9f48"},
     "encoding": {"x": {"datum": 3.9325, "type": "quantitative", "axis": null}, "y": {"datum": -0.05556, "type": "quantitative", "axis": null}, "text": {"value": "R/L"}}},
    {"data": {"name": "one"}, "mark": {"type": "text", "align": "left", "baseline": "alphabetic", "font": "Liberation Sans", "fontWeight": "bold", "fontSize": 40, "color": "#2e9f48"},
     "encoding": {"x": {"datum": 4.1865, "type": "quantitative", "axis": null}, "y": {"datum": -0.0592, "type": "quantitative", "axis": null}, "text": {"value": "n crit"}}}
  ]
}
